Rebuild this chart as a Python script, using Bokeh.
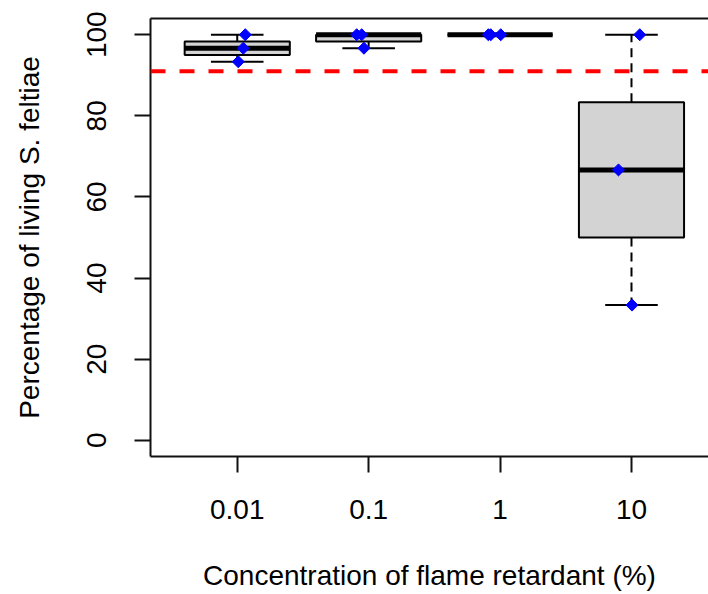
import numpy as np
from bokeh.plotting import figure
from bokeh.models import Range1d, FixedTicker, LinearAxis, Span
from bokeh.embed import file_html
from bokeh.resources import INLINE

# ---- data ----
categories = ["0.01", "0.1", "1", "10"]
g_001 = [100.0, 96.67, 93.33]
g_01 = [100.0, 100.0, 96.67]
g_1 = [100.0, 100.0, 100.0]
g_10 = [100.0, 66.67, 33.33]
groups = [g_001, g_01, g_1, g_10]
# horizontal jitter of the plotted points (category units)
jit_001 = [0.061, 0.046, 0.008]
jit_01 = [-0.091, -0.053, -0.036]
jit_1 = [-0.089, -0.071, 0.005]
jit_10 = [0.063, -0.099, 0.004]
jitters = [jit_001, jit_01, jit_1, jit_10]
threshold = 91.0
y_ticks = [0, 20, 40, 60, 80, 100]

FONT = "Liberation Sans"
FS = "28px"

p = figure(width=708, height=594, output_backend="svg", toolbar_location=None,
           x_range=Range1d(0.34, 4.586), y_range=Range1d(-4, 104),
           min_border_left=150, min_border_right=0, min_border_top=18, min_border_bottom=138,
           outline_line_color=None)
p.grid.visible = False
p.background_fill_color = "white"

# box statistics computed from the data
pos = np.arange(1, len(groups) + 1)
q0, q1, q2, q3, q4 = [], [], [], [], []
for g in groups:
    a = np.array(g)
    q0.append(a.min()); q1.append(np.percentile(a, 25)); q2.append(np.median(a))
    q3.append(np.percentile(a, 75)); q4.append(a.max())
q0, q1, q2, q3, q4 = map(np.array, (q0, q1, q2, q3, q4))
bw = 0.4
cw = 0.2

# whiskers
p.segment(x0=pos, y0=q3, x1=pos, y1=q4, line_color="black", line_width=2, line_dash="9 6")
p.segment(x0=pos, y0=q1, x1=pos, y1=q0, line_color="black", line_width=2, line_dash="9 6")
# caps
p.segment(x0=pos - cw, y0=q4, x1=pos + cw, y1=q4, line_color="black", line_width=2)
p.segment(x0=pos - cw, y0=q0, x1=pos + cw, y1=q0, line_color="black", line_width=2)
# boxes
p.quad(left=pos - bw, right=pos + bw, bottom=q1, top=q3, fill_color="#D3D3D3",
       line_color="black", line_width=2)
# medians
p.segment(x0=pos - bw, y0=q2, x1=pos + bw, y1=q2, line_color="black", line_width=5)

# points
px, py = [], []
for i, (g, j) in enumerate(zip(groups, jitters)):
    for v, d in zip(g, j):
        px.append(i + 1 + d); py.append(v)
p.scatter(x=px, y=py, marker="square", angle=np.pi / 4, size=8.5,
          fill_color="#0000FF", line_color="#0000FF", line_width=1)

# threshold
p.add_layout(Span(location=threshold, dimension="width", line_color="#FF0000",
                  line_width=4, line_dash="15 14"))

# axes
xa = p.xaxis[0]
xa.ticker = FixedTicker(ticks=list(pos))
xa.major_label_overrides = {int(k): c for k, c in zip(pos, categories)}
xa.axis_label = "Concentration of flame retardant (%)"
ya = p.yaxis[0]
ya.ticker = FixedTicker(ticks=y_ticks)
ya.axis_label = "Percentage of living S. feltiae"
ya.major_label_orientation = "vertical"
for ax in (xa, ya):
    ax.axis_line_color = "#111111"
    ax.axis_line_width = 2
    ax.major_tick_line_color = "#111111"
    ax.major_tick_line_width = 2
    ax.major_tick_in = 0
    ax.major_tick_out = 16
    ax.minor_tick_line_color = None
    ax.major_label_text_font = FONT
    ax.major_label_text_font_size = FS
    ax.major_label_text_color = "black"
    ax.axis_label_text_font = FONT
    ax.axis_label_text_font_size = FS
    ax.axis_label_text_font_style = "normal"
    ax.axis_label_text_color = "black"
xa.major_label_standoff = 27
xa.axis_label_standoff = 38
ya.major_label_standoff = 28
ya.axis_label_standoff = 40

top = LinearAxis(ticker=FixedTicker(ticks=[]), major_label_text_font_size="0px",
                 axis_line_color="#111111", axis_line_width=2,
                 major_tick_line_color=None, minor_tick_line_color=None)
p.add_layout(top, "above")

open("out.html", "w").write(file_html(p, INLINE))
